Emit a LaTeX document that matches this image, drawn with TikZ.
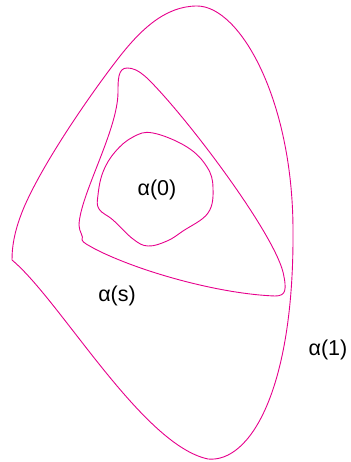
\documentclass[tikz,border=0pt]{standalone}
\usepackage{fontspec}
\setmainfont{Liberation Sans}
\definecolor{curvemag}{RGB}{230,0,140}
\begin{document}
\begin{tikzpicture}[x=1pt,y=-1pt,
  curve/.style={draw=curvemag,line width=0.9pt,line join=round},
  lab/.style={font=\fontsize{21.5}{25}\selectfont,inner sep=0pt}]
\useasboundingbox (0,0) rectangle (350,462);
% outer curve alpha(1)
\coordinate (cusp) at (12,260);
\draw[curve] (cusp)
  .. controls (60,300) and (142,445) .. (208,459)
  .. controls (250,463) and (294,390) .. (293,231)
  .. controls (293,100) and (240,6) .. (197,6)
  .. controls (165,6) and (140,30) .. (117,60)
  .. controls (90,95) and (45,160) .. (25,205)
  .. controls (15,228) and (12,245) .. (cusp);
% middle curve alpha(s)
\draw[curve] (127,68)
  .. controls (118,68) and (118,80) .. (118,92)
  .. controls (118,130) and (80,195) .. (79,225)
  .. controls (79,232) and (84,236) .. (82,240)
  .. controls (83,243) and (90,246) .. (95,249)
  .. controls (140,272) and (220,294) .. (275,296)
  .. controls (286,296) and (287,290) .. (283,272)
  .. controls (272,230) and (185,115) .. (147,78)
  .. controls (138,70) and (133,68) .. (127,68) -- cycle;
% inner curve alpha(0)
\draw[curve] plot[smooth cycle,tension=0.65] coordinates {
 (153,133) (187,147) (207,167) (213,188) (208,213) (183,231) (167,241)
 (148,246) (133,239) (113,220) (99,209) (98,195) (103,172) (115,152) (133,137)};
\node[lab] (a0) at (157,190) {α(0)};
\node[lab] (as) at (117,296) {α(s)};
\node[lab] (a1) at (328,350) {α(1)};
\end{tikzpicture}
\end{document}
